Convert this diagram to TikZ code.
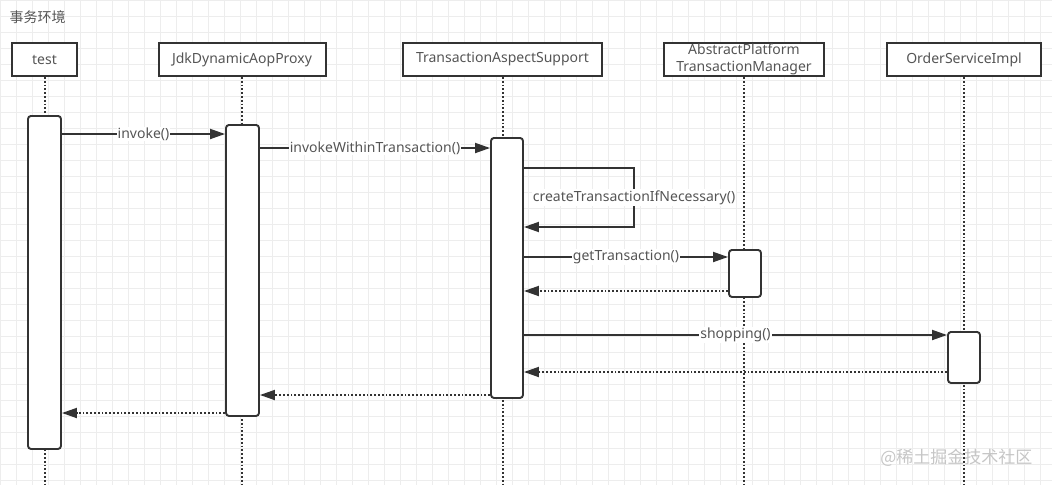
\documentclass[tikz,border=0pt]{standalone}
\usepackage{fontspec}
\setmainfont{Noto Sans}
\newfontfamily\cjk{Noto Sans CJK SC}
\usetikzlibrary{arrows.meta,positioning,calc}
\definecolor{linegray}{HTML}{333333}
\definecolor{textgray}{HTML}{555555}

\begin{document}
\begin{tikzpicture}[x=1pt, y=-1pt, font=\fontsize{14}{17.5}\selectfont,
  head/.style={draw=linegray, line width=2pt, fill=white, text=textgray, minimum height=33pt, inner xsep=2pt, inner ysep=0pt, align=center},
  act/.style={draw=linegray, line width=1.9pt, fill=white, rounded corners=3pt, anchor=north, minimum width=33pt},
  life/.style={draw=linegray, line width=2pt, dash pattern=on 1.8pt off 2pt},
  msg/.style={-{Triangle[length=15pt,width=10pt]}, draw=linegray, line width=1.8pt},
  ret/.style={msg, dash pattern=on 1.8pt off 2pt},
  lbl/.style={fill=white, text=textgray, inner sep=1pt}]
  % canvas and grid
  \useasboundingbox (0,0) rectangle (1052,485);
  \fill[white] (0,0) rectangle (1052,485);
  \draw[gray!14, line width=0.8pt, step=16pt] (0,0) grid (1052,485);
  \coordinate (bottom) at (0,485);
  \node[text=textgray, anchor=west] (title) at (6,17) {\cjk 事务环境};

  % lifeline heads
  \node[head, minimum width=65pt] (test) at (44.5,59.5) {test};
  \node[head, minimum width=167pt] (proxy) at (242,59.5) {JdkDynamicAopProxy};
  \node[head, minimum width=199pt] (aspect) at (502.5,59.5) {TransactionAspectSupport};
  \node[head, minimum width=160pt, font=\fontsize{14}{16.5}\selectfont] (manager) at (744,59.5) {AbstractPlatform\\TransactionManager};
  \node[head, minimum width=154pt] (order) at (964,59.5) {OrderServiceImpl};
  \foreach \n in {test,proxy,aspect,manager,order}
    \draw[life] (\n.south) -- (\n.south |- bottom);

  % activations
  \node[act, minimum height=333pt] (testact) at (44.5,115) {};
  \node[act, minimum height=291pt] (proxyact) at (242.5,124) {};
  \node[act, minimum width=32pt, minimum height=260pt] (aspectact) at (507,137) {};
  \node[act, minimum width=32pt, minimum height=47pt] (manageract) at (745,249) {};
  \node[act, minimum width=32pt, minimum height=51pt] (orderact) at (964,331) {};

  % calls
  \draw[msg] (testact.east |- 0,134) -- node[lbl]{invoke()} (proxyact.west |- 0,134);
  \draw[msg] (proxyact.east |- 0,148) -- node[lbl]{invokeWithinTransaction()} (aspectact.west |- 0,148);
  \coordinate (selfloop) at (634,168);
  \draw[msg] (aspectact.east |- selfloop) -- (selfloop) -- node[lbl]{createTransactionIfNecessary()} (selfloop |- 0,227) -- (aspectact.east |- 0,227);
  \draw[msg] (aspectact.east |- 0,257) -- node[lbl]{getTransaction()} (manageract.west |- 0,257);
  \draw[msg] (aspectact.east |- 0,335) -- node[lbl]{shopping()} (orderact.west |- 0,335);

  % returns
  \draw[ret] (manageract.west |- 0,291) -- (aspectact.east |- 0,291);
  \draw[ret] (orderact.west |- 0,372) -- (aspectact.east |- 0,372);
  \draw[ret] (aspectact.west |- 0,395) -- (proxyact.east |- 0,395);
  \draw[ret] (proxyact.west |- 0,413) -- (testact.east |- 0,413);

  \node[text=gray!45, anchor=east, font=\fontsize{17}{20}\selectfont] (mark) at (1036,458) {\cjk @稀土掘金技术社区};
\end{tikzpicture}
\end{document}
